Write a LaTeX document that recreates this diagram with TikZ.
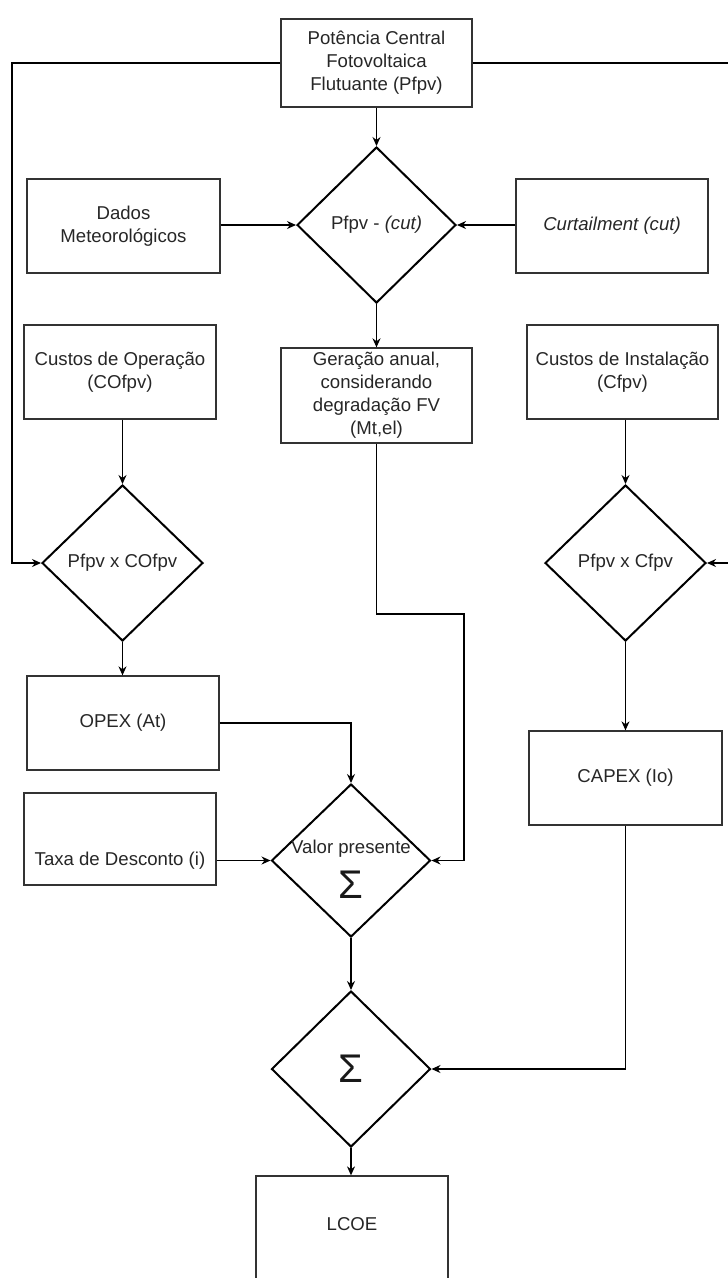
\documentclass[tikz,border=0pt]{standalone}
\usepackage{fontspec}
\setmainfont{Liberation Sans}
\usetikzlibrary{shapes.geometric,arrows.meta}
\begin{document}
\begin{tikzpicture}[x=1pt,y=-1pt,
 box/.style={draw=black!80,line width=1.3pt,inner sep=2pt,align=center,text=black!85,font=\fontsize{18.6}{23}\selectfont},
 dia/.style={draw=black,diamond,line width=2pt,minimum width=161pt,minimum height=156pt,inner sep=0pt},
 txt/.style={align=center,text=black!85,font=\fontsize{18.6}{23}\selectfont},
 sig/.style={text=black!90,font=\fontsize{40}{40}\selectfont},
 arr/.style={-{Stealth[length=9pt,width=8pt]},line width=1.3pt}]
\useasboundingbox (0,0) rectangle (728,1278);
% boxes
\node[box,minimum width=191pt,minimum height=88pt] (top) at (376.5,63) {Potência Central\\Fotovoltaica\\Flutuante (Pfpv)};
\node[box,minimum width=193pt,minimum height=94pt] (dados) at (123.5,226) {Dados\\Meteorológicos};
\node[box,minimum width=192pt,minimum height=94pt] (curt) at (612,226) {\itshape Curtailment (cut)};
\node[box,minimum width=192pt,minimum height=94pt] (cop) at (120,372) {Custos de Operação\\(COfpv)};
\node[box,minimum width=191pt,minimum height=95pt] (ger) at (376.5,395.5) {Geração anual,\\considerando\\degradação FV\\(Mt,el)};
\node[box,minimum width=191pt,minimum height=94pt] (cin) at (622.5,372) {Custos de Instalação\\(Cfpv)};
\node[box,minimum width=192pt,minimum height=94pt] (opex) at (123,723) {OPEX (At)};
\node[box,minimum width=193pt,minimum height=94pt] (capex) at (625.5,778) {CAPEX (Io)};
\node[box,minimum width=192pt,minimum height=92pt] (taxa) at (120,839) {};
\node[txt] (taxat) at (120,861) {Taxa de Desconto (i)};
\node[box,minimum width=192pt,minimum height=116pt] (lcoe) at (352,1234) {};
\node[txt] (lcoet) at (352,1224) {LCOE};
% diamonds
\node[dia,minimum width=159pt] (d1) at (376.5,225) {};
\node[txt] (d1t) at (d1) {Pfpv - \textit{(cut)}};
\node[dia] (d2) at (122.5,563) {};
\node[txt] (d2t) at (d2) {Pfpv x COfpv};
\node[dia] (d3) at (625.5,563) {};
\node[txt] (d3t) at (d3) {Pfpv x Cfpv};
\node[dia,minimum width=159pt,minimum height=153pt] (d4) at (351,860.5) {};
\node[txt] (d4t) at (351,849) {Valor presente};
\node[sig] (d4s) at (351,885) {Σ};
\node[dia,minimum width=159pt] (d5) at (351,1069) {};
\node[sig] (d5s) at (351,1069) {Σ};
% helper coordinates
\coordinate (lx) at (12,0);
\coordinate (rx) at (745,0);
\coordinate (g1) at (464,614);
% connectors
\draw[arr] (top.south) -- (d1.north);
\draw[arr] (d1.west -| dados.east) -- (d1.west);
\draw[arr] (d1.east -| curt.west) -- (d1.east);
\draw[arr] (d1.south) -- (ger.north);
\draw[arr] (top.west) -- (top.west -| lx) |- (d2.west);
\draw[arr] (top.east) -- (top.east -| rx) |- (d3.east);
\draw[arr] (d2.north |- cop.south) -- (d2.north);
\draw[arr] (d2.south) -- (d2.south |- opex.north);
\draw[arr] (d3.north |- cin.south) -- (d3.north);
\draw[arr] (d3.south) -- (capex.north);
\draw[arr] (opex.east) -| (d4.north);
\draw[arr] (d4.west -| taxa.east) -- (d4.west);
\draw[arr] (ger.south) |- (g1) |- (d4.east);
\draw[arr] (d4.south) -- (d5.north);
\draw[arr] (capex.south) |- (d5.east);
\draw[arr] (d5.south) -- (d5.south |- lcoe.north);
\end{tikzpicture}
\end{document}
